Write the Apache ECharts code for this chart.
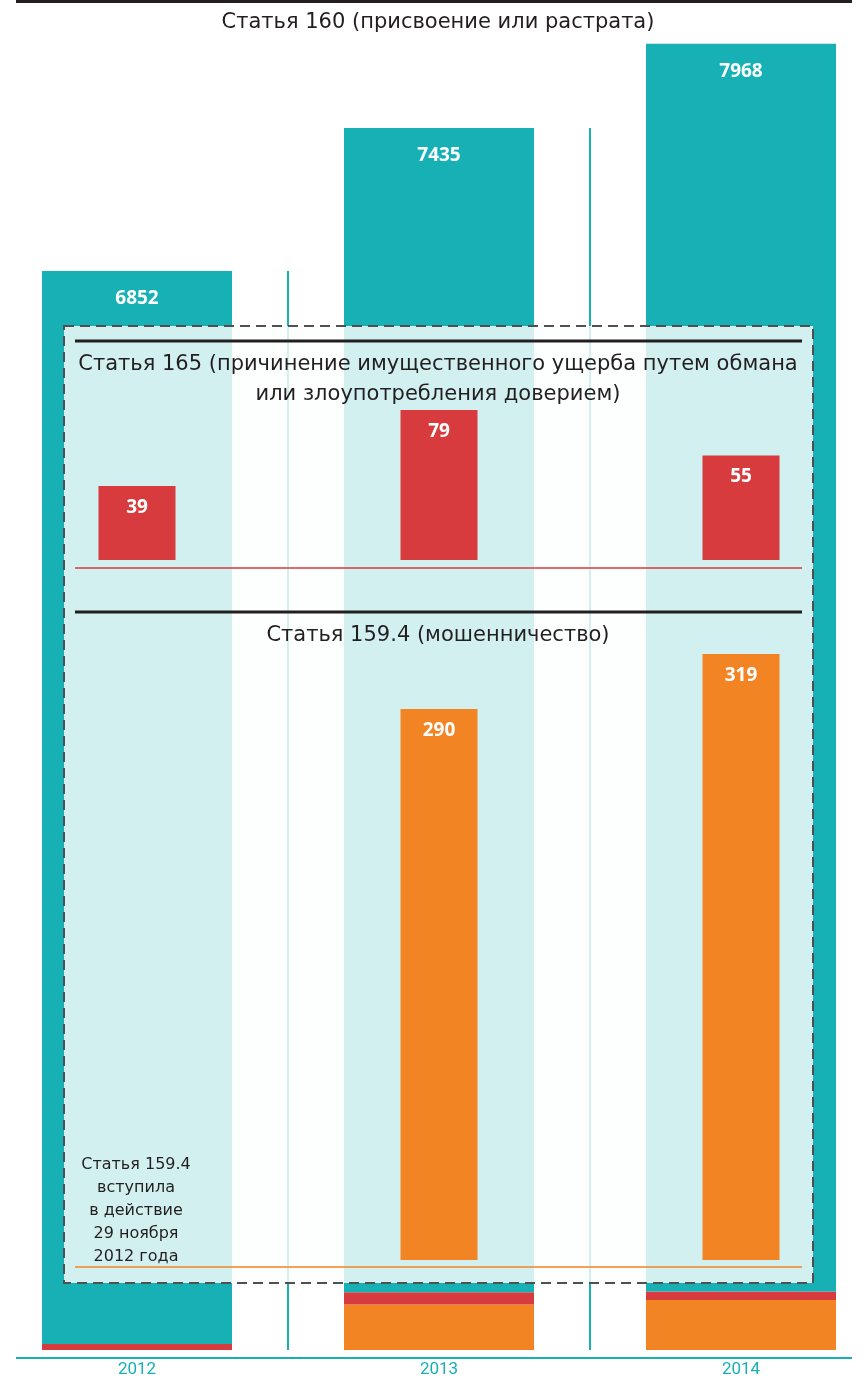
<!DOCTYPE html>
<html><head><meta charset="utf-8">
<script src="https://cdn.jsdelivr.net/npm/echarts@6/dist/echarts.min.js"></script>
<style>html,body{margin:0;padding:0;background:#fff}#c{width:868px;height:1379px}</style>
</head><body><div id="c"></div>
<script>
const years = ['2012', '2013', '2014'];
const art160 = [6852, 7435, 7968];   // Статья 160
const art165 = [39, 79, 55];         // Статья 165
const art1594 = [0, 290, 319];       // Статья 159.4
const title160 = 'Статья 160 (присвоение или растрата)';
const title165 = ['Статья 165 (причинение имущественного ущерба путем обмана', 'или злоупотребления доверием)'];
const title1594 = 'Статья 159.4 (мошенничество)';
const note1594 = ['Статья 159.4', 'вступила', 'в действие', '29 ноября', '2012 года'];

const TEAL = '#17b1b5', RED = '#d83b3d', ORANGE = '#f38423', INK = '#231f20';
const FONT = "'DejaVu Sans', 'Noto Sans', sans-serif";
const totals = years.map((_, i) => art160[i] + art165[i] + art1594[i]);

const chart = echarts.init(document.getElementById('c'), null, {renderer: 'canvas'});
const numLabel = (pos, dist) => ({show: true, position: pos, distance: dist, color: '#fff', fontSize: 19, fontWeight: 'bold', fontFamily: "'Open Sans', sans-serif",
  formatter: p => (p.value ? String(p.value) : '')});
const xCommon = {type: 'category', data: years, axisTick: {show: false}, axisLine: {show: false}};
const yCommon = {type: 'value', min: 0, show: false, splitLine: {show: false}};
const gridCommon = {left: -14, right: -24, outerBoundsMode: 'none', containLabel: false};

chart.setOption({
  animation: false,
  grid: [
    Object.assign({top: 19, bottom: 29}, gridCommon),
    Object.assign({top: 370, bottom: 819}, gridCommon),
    Object.assign({top: 500, bottom: 119}, gridCommon)
  ],
  xAxis: [
    Object.assign({gridIndex: 0, axisLabel: {color: TEAL, fontSize: 17, margin: 11, fontFamily: "'Liberation Sans Narrow', 'Roboto', sans-serif"}}, xCommon),
    Object.assign({gridIndex: 1, axisLabel: {show: false}}, xCommon),
    Object.assign({gridIndex: 2, axisLabel: {show: false}}, xCommon)
  ],
  yAxis: [
    Object.assign({gridIndex: 0, max: 8500}, yCommon),
    Object.assign({gridIndex: 1, max: 100}, yCommon),
    Object.assign({gridIndex: 2, max: 400}, yCommon)
  ],
  series: [
    {type: 'bar', name: '159.4', stack: 'all', xAxisIndex: 0, yAxisIndex: 0, barWidth: 190, z: 1, data: art1594, itemStyle: {color: ORANGE}},
    {type: 'bar', name: '165', stack: 'all', xAxisIndex: 0, yAxisIndex: 0, barWidth: 190, z: 1, data: art165, itemStyle: {color: RED}},
    {type: 'bar', name: '160', stack: 'all', xAxisIndex: 0, yAxisIndex: 0, barWidth: 190, z: 1, data: art160, itemStyle: {color: TEAL}, label: numLabel('insideTop', 18)},
    {type: 'custom', xAxisIndex: 0, yAxisIndex: 0, z: 1, data: totals.slice(0, 2).map((v, i) => [i, v]),
      renderItem: (params, api) => {
        const top = api.coord([api.value(0), api.value(1)]);
        const bot = api.coord([api.value(0), 0]);
        const half = api.size([1, 0])[0] / 2;
        return {type: 'line', shape: {x1: top[0] + half, y1: top[1], x2: bot[0] + half, y2: bot[1]}, style: {stroke: TEAL, lineWidth: 2}};
      }},
    {type: 'bar', name: '165 sub', xAxisIndex: 1, yAxisIndex: 1, barWidth: 77, z: 10, data: art165, itemStyle: {color: RED}, label: numLabel('insideTop', 12)},
    {type: 'bar', name: '159.4 sub', xAxisIndex: 2, yAxisIndex: 2, barWidth: 77, z: 10, data: art1594, itemStyle: {color: ORANGE}, label: numLabel('insideTop', 12)}
  ],
  graphic: [
    {type: 'rect', z: 20, shape: {x: 16, y: 0, width: 836, height: 3}, style: {fill: INK}},
    {type: 'text', z: 20, x: 438, y: 23, style: {text: title160, fill: INK, font: '21px ' + FONT, align: 'center', verticalAlign: 'middle'}},
    {type: 'rect', z: 5, shape: {x: 64, y: 326, width: 749, height: 957}, style: {fill: 'rgba(253,254,254,0.82)', stroke: '#505050', lineWidth: 2, lineDash: [10, 6]}},
    {type: 'line', z: 20, shape: {x1: 75, y1: 341, x2: 802, y2: 341}, style: {stroke: INK, lineWidth: 3}},
    {type: 'text', z: 20, x: 438, y: 365, style: {text: title165[0], fill: INK, font: '21px ' + FONT, align: 'center', verticalAlign: 'middle'}},
    {type: 'text', z: 20, x: 438, y: 395, style: {text: title165[1], fill: INK, font: '21px ' + FONT, align: 'center', verticalAlign: 'middle'}},
    {type: 'line', z: 20, shape: {x1: 75, y1: 568, x2: 802, y2: 568}, style: {stroke: RED, lineWidth: 1.5}},
    {type: 'line', z: 20, shape: {x1: 75, y1: 612, x2: 802, y2: 612}, style: {stroke: INK, lineWidth: 3}},
    {type: 'text', z: 20, x: 438, y: 636, style: {text: title1594, fill: INK, font: '21px ' + FONT, align: 'center', verticalAlign: 'middle'}},
    {type: 'line', z: 20, shape: {x1: 75, y1: 1267, x2: 802, y2: 1267}, style: {stroke: ORANGE, lineWidth: 1.5}},
    {type: 'text', z: 20, x: 136, y: 1211, style: {text: note1594.join('\n'), fill: INK, font: '16px ' + FONT, align: 'center', verticalAlign: 'middle', lineHeight: 23}},
    {type: 'line', z: 20, shape: {x1: 16, y1: 1358, x2: 852, y2: 1358}, style: {stroke: TEAL, lineWidth: 2}}
  ]
});
</script></body></html>
